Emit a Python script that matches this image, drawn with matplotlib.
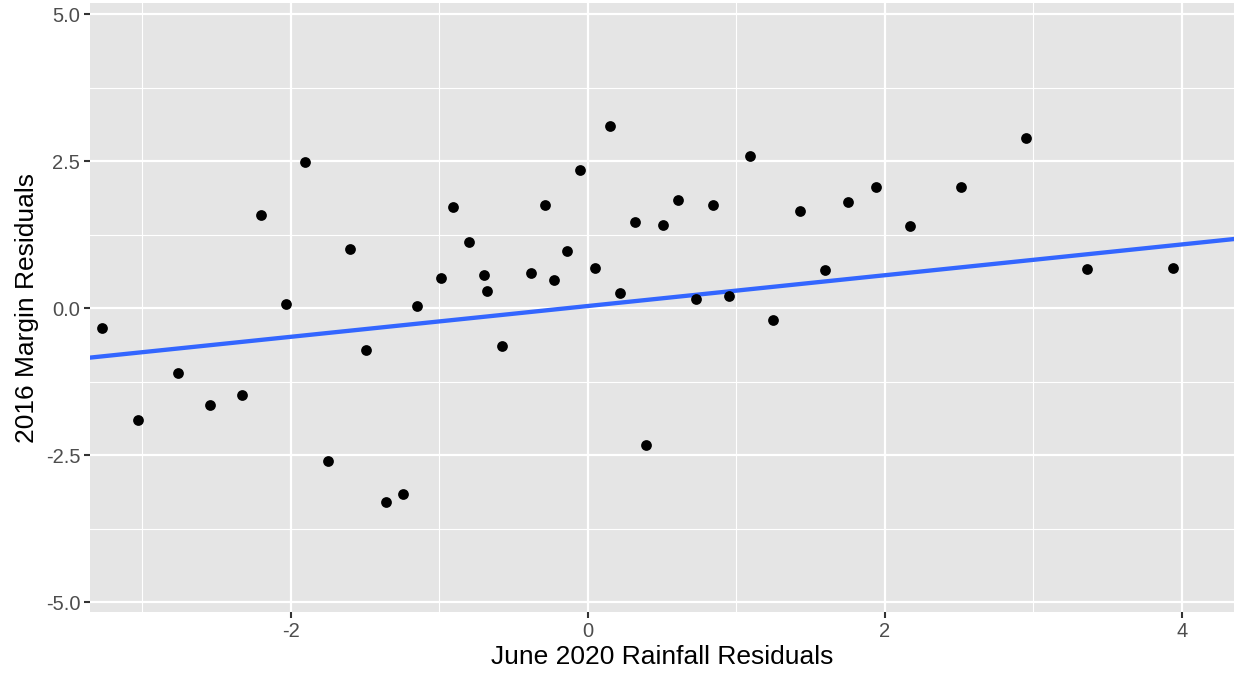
import numpy as np
import matplotlib.pyplot as plt

# residuals
rain_resid = [-3.27, -3.03, -2.76, -2.54, -2.33, -2.20, -2.03, -1.90, -1.75, -1.60,
              -1.49, -1.36, -1.24, -1.15, -0.99, -0.91, -0.80, -0.70, -0.68, -0.58,
              -0.38, -0.29, -0.23, -0.14, -0.05, 0.05, 0.15, 0.22, 0.32, 0.39,
              0.51, 0.61, 0.73, 0.84, 0.95, 1.09, 1.25, 1.43, 1.60, 1.75,
              1.94, 2.17, 2.51, 2.95, 3.36, 3.94]
margin_resid = [-0.34, -1.90, -1.11, -1.65, -1.48, 1.58, 0.07, 2.48, -2.60, 1.00,
                -0.71, -3.30, -3.16, 0.03, 0.51, 1.72, 1.12, 0.57, 0.29, -0.65,
                0.59, 1.76, 0.48, 0.97, 2.35, 0.68, 3.09, 0.26, 1.46, -2.33,
                1.41, 1.84, 0.15, 1.75, 0.20, 2.59, -0.20, 1.65, 0.65, 1.80,
                2.06, 1.40, 2.06, 2.89, 0.66, 0.68]

# fitted line as drawn in the reference
fit_slope = 0.262
fit_intercept = 0.035

x = np.array(rain_resid)
y = np.array(margin_resid)

plt.rcParams['font.family'] = ['Liberation Sans', 'DejaVu Sans']
plt.rcParams['axes.unicode_minus'] = False

fig = plt.figure(figsize=(12.36, 6.77), dpi=100)
ax = fig.add_axes([90/1236, 65/677, 1144/1236, 609/677])
ax.set_facecolor('#E5E5E5')

xlim = (-3.35, 4.35)
ylim = (-5.17, 5.19)
ax.set_xlim(xlim)
ax.set_ylim(ylim)

ax.set_xticks([-2, 0, 2, 4])
ax.set_xticks([-3, -1, 1, 3], minor=True)
ax.set_yticks([-5, -2.5, 0, 2.5, 5])
ax.set_yticklabels(['-5.0', '-2.5', '0.0', '2.5', '5.0'])
ax.set_yticks([-3.75, -1.25, 1.25, 3.75], minor=True)

ax.grid(which='major', color='white', linewidth=1.6)
ax.grid(which='minor', color='white', linewidth=0.8)
ax.set_axisbelow(True)
for s in ax.spines.values():
    s.set_visible(False)

ax.tick_params(which='major', length=4, width=1.5, color='#333333',
               labelcolor='#4D4D4D', labelsize=14.5, pad=3)
ax.tick_params(which='minor', length=0)

ax.scatter(x, y, s=60, color='black', zorder=3, linewidths=0)
xs = np.array(xlim)
ax.plot(xs, fit_intercept + fit_slope * xs, color='#3366FF', linewidth=3.1, zorder=2)

ax.set_xlabel('June 2020 Rainfall Residuals', fontsize=19, labelpad=3)
ax.set_ylabel('2016 Margin Residuals', fontsize=19, labelpad=5)

fig.savefig('out.png', dpi=100)
